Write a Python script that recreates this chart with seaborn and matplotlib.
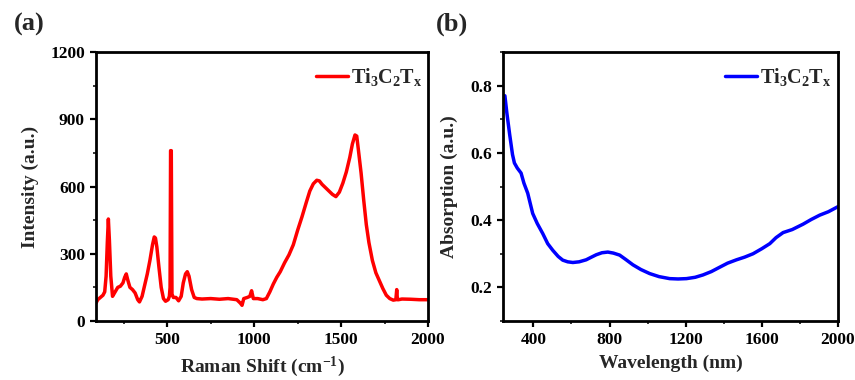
import seaborn as sns
import pandas as pd
import matplotlib.pyplot as plt
from matplotlib.ticker import MultipleLocator

# Raman spectrum (a)
raman_shift = [90, 100, 115, 130, 140, 148, 155, 161, 167, 175, 185, 200, 215, 230, 245, 255,
               264, 272, 285, 300, 315, 330, 340, 355, 370, 385, 400, 415, 425, 432, 440, 452,
               465, 478, 490, 505, 512, 516, 519, 523, 527, 535, 550, 565, 580, 592, 605, 615,
               625, 640, 655, 670, 700, 750, 800, 850, 900, 920, 930, 940, 960, 975, 985, 995,
               1020, 1050, 1070, 1090, 1110, 1130, 1150, 1175, 1200, 1225, 1250, 1275, 1300,
               1320, 1340, 1360, 1375, 1390, 1410, 1430, 1450, 1470, 1490, 1510, 1530, 1550,
               1565, 1580, 1590, 1600, 1615, 1630, 1645, 1660, 1680, 1700, 1720, 1740, 1760,
               1780, 1800, 1815, 1820, 1824, 1830, 1850, 1900, 1950, 2000]
raman_intensity = [80, 95, 105, 115, 130, 200, 350, 455, 360, 200, 110, 130, 150, 155, 170, 195,
                   210, 185, 150, 140, 125, 95, 85, 110, 160, 210, 270, 340, 375, 370, 330, 240,
                   150, 100, 88, 95, 110, 150, 760, 760, 120, 105, 105, 90, 110, 170, 210, 220,
                   200, 140, 105, 100, 98, 100, 97, 100, 95, 80, 70, 100, 105, 110, 135, 100,
                   100, 95, 100, 130, 165, 195, 220, 260, 295, 340, 405, 465, 530,
                   580, 612, 628, 625, 610, 595, 580, 565, 555, 575, 615, 665, 730,
                   790, 830, 825, 760, 660, 540, 430, 350, 270, 215, 180, 145, 115,
                   100, 93, 95, 140, 95, 95, 98, 97, 95, 95]

# Absorption spectrum (b)
wavelength = [250, 260, 275, 290, 300, 315, 335, 350, 370, 396, 420, 449, 475, 502, 530, 554,
              580, 607, 640, 677, 705, 730, 760, 791, 820, 853, 885, 923, 965, 1011, 1060, 1116,
              1160, 1204, 1250, 1291, 1335, 1379, 1420, 1467, 1510, 1554, 1600, 1642, 1675, 1712,
              1760, 1817, 1860, 1905, 1950, 2000]
absorption = [0.77, 0.72, 0.655, 0.595, 0.57, 0.555, 0.54, 0.51, 0.48, 0.42, 0.39, 0.36, 0.33,
              0.31, 0.292, 0.281, 0.276, 0.274, 0.276, 0.282, 0.29, 0.297, 0.303, 0.305, 0.302,
              0.296, 0.283, 0.267, 0.253, 0.241, 0.232, 0.226, 0.225, 0.226, 0.23, 0.237, 0.247,
              0.26, 0.272, 0.282, 0.29, 0.30, 0.315, 0.33, 0.348, 0.363, 0.372, 0.388, 0.402,
              0.415, 0.425, 0.44]

label = 'Ti$_3$C$_2$T$_x$'

sns.set_theme(style="ticks")
plt.rcParams['font.family'] = ['Liberation Serif', 'DejaVu Serif']
plt.rcParams['font.weight'] = 'bold'
plt.rcParams['axes.labelweight'] = 'bold'
plt.rcParams['mathtext.fontset'] = 'custom'
plt.rcParams['mathtext.rm'] = 'Liberation Serif:bold'
plt.rcParams['mathtext.it'] = 'Liberation Serif:bold'
plt.rcParams['mathtext.bf'] = 'Liberation Serif:bold'

fig = plt.figure(figsize=(8.55, 3.8), dpi=100)
ax1 = fig.add_axes([0.1123, 0.1553, 0.3883, 0.7077])
ax2 = fig.add_axes([0.5883, 0.1553, 0.3917, 0.7077])

df_a = pd.DataFrame({'x': raman_shift, 'y': raman_intensity})
df_b = pd.DataFrame({'x': wavelength, 'y': absorption})

sns.lineplot(data=df_a, x='x', y='y', ax=ax1, color='#ff0000', linewidth=2.5, label=label)
sns.lineplot(data=df_b, x='x', y='y', ax=ax2, color='#0000ff', linewidth=2.5, label=label)

ax1.set_xlim(90, 2000)
ax1.set_ylim(0, 1200)
ax1.xaxis.set_major_locator(MultipleLocator(500))
ax1.xaxis.set_minor_locator(MultipleLocator(250))
ax1.yaxis.set_major_locator(MultipleLocator(300))
ax1.yaxis.set_minor_locator(MultipleLocator(150))
ax1.set_xlabel('Raman Shift (cm$^{-1}$)', fontsize=14, labelpad=5)
ax1.set_ylabel('Intensity (a.u.)', fontsize=14, labelpad=8)

ax2.set_xlim(240, 2000)
ax2.set_ylim(0.1, 0.9)
ax2.xaxis.set_major_locator(MultipleLocator(400))
ax2.xaxis.set_minor_locator(MultipleLocator(200))
ax2.yaxis.set_major_locator(MultipleLocator(0.2))
ax2.yaxis.set_minor_locator(MultipleLocator(0.1))
ax2.set_xlabel('Wavelength (nm)', fontsize=14, labelpad=5)
ax2.set_ylabel('Absorption (a.u.)', fontsize=14, labelpad=9)

legend_anchor = {ax1: (0.985, 0.907), ax2: (0.982, 0.907)}

for ax in (ax1, ax2):
    for s in ax.spines.values():
        s.set_visible(True)
        s.set_linewidth(2.0)
        s.set_color('black')
    ax.tick_params(which='major', direction='out', length=4, width=1.6, labelsize=12.5,
                   colors='black', pad=4)
    ax.tick_params(which='minor', direction='out', length=2.5, width=1.3)
    for t in ax.get_xticklabels() + ax.get_yticklabels():
        t.set_fontweight('bold')
    leg = ax.legend(loc='center right', bbox_to_anchor=legend_anchor[ax], frameon=False,
                    fontsize=14.5, handlelength=1.6, handletextpad=0.15,
                    borderaxespad=0, borderpad=0)
    for line in leg.get_lines():
        line.set_linewidth(2.5)

fig.text(0.016, 0.935, '(a)', fontsize=19, fontweight='bold', va='center')
fig.text(0.510, 0.935, '(b)', fontsize=19, fontweight='bold', va='center')

fig.savefig('out.png', dpi=100)
